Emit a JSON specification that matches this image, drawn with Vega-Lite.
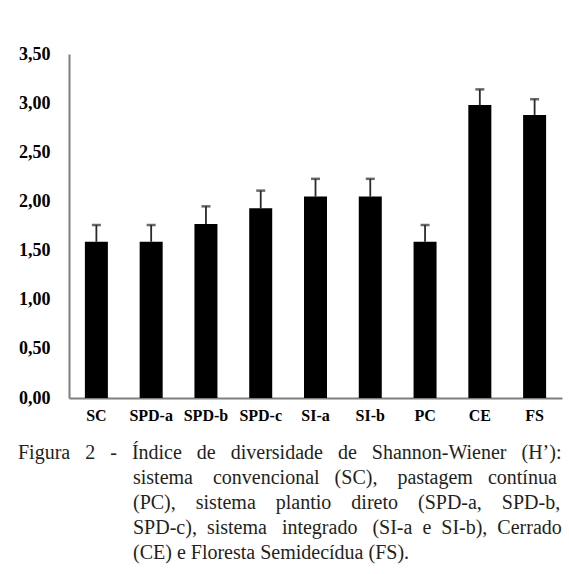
{
  "$schema": "https://vega.github.io/schema/vega-lite/v6.json",
  "width": 493,
  "height": 344,
  "autosize": {"type": "none"},
  "padding": {"left": 69, "top": 54, "right": 7, "bottom": 176},
  "background": "white",
  "config": {
    "view": {"stroke": null},
    "font": "Liberation Serif"
  },
  "title": {
    "text": [
      "Figura\u00a0\u00a0\u00a02\u00a0\u00a0\u00a0-\u00a0\u00a0\u00a0Índice\u00a0\u00a0\u00a0de\u00a0\u00a0\u00a0diversidade\u00a0\u00a0\u00a0de\u00a0\u00a0\u00a0Shannon-Wiener\u00a0\u00a0\u00a0(H’):",
      "\u200b\u00a0\u00a0\u00a0\u00a0\u00a0\u00a0\u00a0\u00a0\u00a0\u00a0\u00a0\u00a0\u00a0\u00a0\u00a0\u00a0\u00a0\u00a0\u00a0\u00a0\u00a0\u00a0\u00a0sistema\u00a0\u00a0\u00a0\u00a0convencional\u00a0\u00a0\u00a0(SC),\u00a0\u00a0\u00a0\u00a0pastagem\u00a0\u00a0\u00a0contínua",
      "\u200b\u00a0\u00a0\u00a0\u00a0\u00a0\u00a0\u00a0\u00a0\u00a0\u00a0\u00a0\u00a0\u00a0\u00a0\u00a0\u00a0\u00a0\u00a0\u00a0\u00a0\u00a0\u00a0\u00a0(PC),\u00a0\u00a0\u00a0\u00a0sistema\u00a0\u00a0\u00a0\u00a0plantio\u00a0\u00a0\u00a0\u00a0direto\u00a0\u00a0\u00a0\u00a0(SPD-a,\u00a0\u00a0\u00a0\u00a0SPD-b,",
      "\u200b\u00a0\u00a0\u00a0\u00a0\u00a0\u00a0\u00a0\u00a0\u00a0\u00a0\u00a0\u00a0\u00a0\u00a0\u00a0\u00a0\u00a0\u00a0\u00a0\u00a0\u00a0\u00a0\u00a0SPD-c),\u00a0\u00a0sistema\u00a0\u00a0\u00a0integrado\u00a0\u00a0\u00a0(SI-a\u00a0\u00a0e\u00a0\u00a0SI-b),\u00a0\u00a0Cerrado",
      "\u200b\u00a0\u00a0\u00a0\u00a0\u00a0\u00a0\u00a0\u00a0\u00a0\u00a0\u00a0\u00a0\u00a0\u00a0\u00a0\u00a0\u00a0\u00a0\u00a0\u00a0\u00a0\u00a0\u00a0(CE) e Floresta Semidecídua (FS)."
    ],
    "orient": "bottom",
    "anchor": "start",
    "frame": "group",
    "dx": -51,
    "offset": 20,
    "font": "Liberation Serif",
    "fontSize": 20,
    "fontWeight": "normal",
    "lineHeight": 25,
    "color": "#231f20",
    "baseline": "top"
  },
  "data": {
    "values": [
      {"sistema": "SC", "H": 1.59, "sup": 1.76},
      {"sistema": "SPD-a", "H": 1.59, "sup": 1.76},
      {"sistema": "SPD-b", "H": 1.77, "sup": 1.95},
      {"sistema": "SPD-c", "H": 1.93, "sup": 2.11},
      {"sistema": "SI-a", "H": 2.05, "sup": 2.23},
      {"sistema": "SI-b", "H": 2.05, "sup": 2.23},
      {"sistema": "PC", "H": 1.59, "sup": 1.76},
      {"sistema": "CE", "H": 2.98, "sup": 3.14},
      {"sistema": "FS", "H": 2.88, "sup": 3.04}
    ]
  },
  "encoding": {
    "x": {
      "field": "sistema",
      "type": "nominal",
      "sort": null,
      "scale": {"paddingInner": 0.58, "paddingOuter": 0.29},
      "axis": {
        "title": null,
        "labelAngle": 0,
        "labelFont": "Liberation Serif",
        "labelFontWeight": "bold",
        "labelFontSize": 16,
        "labelColor": "#000000",
        "labelPadding": 9,
        "ticks": false,
        "tickSize": 0,
        "domainColor": "#7f7f7f",
        "domainWidth": 2
      }
    }
  },
  "layer": [
    {
      "mark": {"type": "rule", "color": "#2a2a2a", "strokeWidth": 1.8},
      "encoding": {
        "y": {"field": "H", "type": "quantitative"},
        "y2": {"field": "sup"}
      }
    },
    {
      "mark": {"type": "tick", "color": "#2a2a2a", "size": 9, "thickness": 2.5, "orient": "horizontal"},
      "encoding": {
        "y": {"field": "sup", "type": "quantitative"}
      }
    },
    {
      "mark": {"type": "bar", "color": "#000000"},
      "encoding": {
        "y": {
          "field": "H",
          "type": "quantitative",
          "scale": {"domain": [0, 3.5], "nice": false, "zero": true},
          "axis": {
            "title": null,
            "values": [0, 0.5, 1, 1.5, 2, 2.5, 3, 3.5],
            "labelExpr": "replace(format(datum.value, '.2f'), '.', ',')",
            "labelFont": "Liberation Serif",
            "labelFontWeight": "bold",
            "labelFontSize": 18,
            "labelColor": "#000000",
            "labelPadding": 19,
            "ticks": false,
            "tickSize": 0,
            "grid": false,
            "domainColor": "#7f7f7f",
            "domainWidth": 2
          }
        }
      }
    }
  ]
}
